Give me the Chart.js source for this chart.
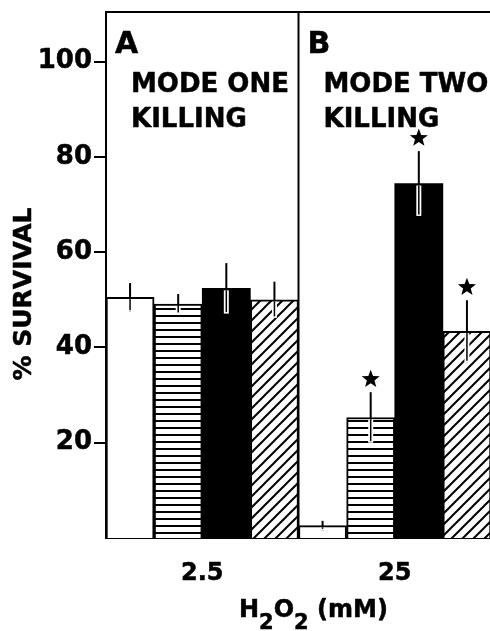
<!DOCTYPE html>
<html>
<head>
<meta charset="utf-8">
<script src="https://cdn.jsdelivr.net/npm/chart.js@4.4.1/dist/chart.umd.min.js"></script>
<style>
html, body { margin: 0; padding: 0; background: #fff; }
#wrap { width: 490px; height: 631px; overflow: hidden; }
</style>
</head>
<body>
<div id="wrap"><canvas id="survivalChart" width="500" height="631"></canvas></div>
<script>
const doses = ['2.5', '25'];
const panelLabels = ['A', 'B'];
const panelText = [['MODE ONE', 'KILLING'], ['MODE TWO', 'KILLING']];
const yTicks = [20, 40, 60, 80, 100];
const yTitle = '% SURVIVAL';
// [text, subscript?]
const xTitleParts = [['H', false], ['2', true], ['O', false], ['2', true], [' (mM)', false]];

const controlVals = [50.5, 2.6];
const controlErr = [3, 1];
const stripedVals = [49.1, 25.3];
const stripedErr = [2.1, 5.3];
const blackVals = [52.4, 74.4];
const blackErr = [5.3, 6.8];
const hatchedVals = [50, 43.4];
const hatchedErr = [3.8, 6.5];
// star = marked on the figure
const controlStar = [false, false];
const stripedStar = [false, true];
const blackStar = [false, true];
const hatchedStar = [false, true];

const FONT = 'DejaVu Sans';
const STROKE = 0.5;

function stripePattern() {
    const c = document.createElement('canvas');
    c.width = 8; c.height = 7;
    const g = c.getContext('2d');
    g.fillStyle = '#fff';
    g.fillRect(0, 0, 8, 7);
    g.fillStyle = '#000';
    g.fillRect(0, 0, 8, 2);
    return g.createPattern(c, 'repeat');
}

function hatchPattern() {
    const s = 11;
    const c = document.createElement('canvas');
    c.width = s; c.height = s;
    const g = c.getContext('2d');
    g.fillStyle = '#fff';
    g.fillRect(0, 0, s, s);
    g.strokeStyle = '#000';
    g.lineWidth = 2;
    g.beginPath();
    g.moveTo(0, s); g.lineTo(s, 0);
    g.moveTo(-s / 2, s / 2); g.lineTo(s / 2, -s / 2);
    g.moveTo(s / 2, s * 1.5); g.lineTo(s * 1.5, s / 2);
    g.stroke();
    return g.createPattern(c, 'repeat');
}

function drawStar(ctx, cx, cy, r1, r2) {
    ctx.beginPath();
    for (let i = 0; i < 10; i++) {
        const r = i % 2 === 0 ? r1 : r2;
        const a = -Math.PI / 2 + i * Math.PI / 5;
        const px = cx + r * Math.cos(a);
        const py = cy + r * Math.sin(a);
        if (i === 0) ctx.moveTo(px, py); else ctx.lineTo(px, py);
    }
    ctx.closePath();
    ctx.fill();
}

// bold text with a thin outline so it looks as heavy as the print
function heavyText(ctx, t, x, y) {
    ctx.fillText(t, x, y);
    ctx.strokeText(t, x, y);
}

const figurePlugin = {
    id: 'figure',
    afterDatasetsDraw(chart) {
        const ctx = chart.ctx;
        const y = chart.scales.y;
        chart.data.datasets.forEach((ds, di) => {
            const meta = chart.getDatasetMeta(di);
            meta.data.forEach((bar, i) => {
                const v = ds.data[i];
                const e = ds.errors[i];
                const yTop = y.getPixelForValue(v + e);
                const yBot = y.getPixelForValue(v - e);
                ctx.save();
                ctx.lineCap = 'butt';
                ctx.strokeStyle = '#000';
                ctx.lineWidth = 2;
                ctx.beginPath();
                ctx.moveTo(bar.x, yTop);
                ctx.lineTo(bar.x, yBot);
                ctx.stroke();
                // part inside the bar gets a white halo
                const inTop = Math.max(bar.y + 2, yTop);
                if (yBot > inTop) {
                    ctx.strokeStyle = '#fff';
                    ctx.lineWidth = 5;
                    ctx.beginPath();
                    ctx.moveTo(bar.x, inTop);
                    ctx.lineTo(bar.x, yBot);
                    ctx.stroke();
                    ctx.strokeStyle = '#000';
                    ctx.lineWidth = 1.5;
                    ctx.beginPath();
                    ctx.moveTo(bar.x, inTop);
                    ctx.lineTo(bar.x, yBot - 1.5);
                    ctx.stroke();
                }
                if (ds.stars[i]) {
                    ctx.fillStyle = '#000';
                    drawStar(ctx, bar.x, yTop - 13, 9.5, 4);
                }
                ctx.restore();
            });
        });
    },
    afterDraw(chart) {
        const ctx = chart.ctx;
        const area = chart.chartArea;
        const x = chart.scales.x;
        const divX = (x.getPixelForValue(0) + x.getPixelForValue(1)) / 2;
        ctx.save();
        ctx.strokeStyle = '#000';
        ctx.lineWidth = 2;
        ctx.beginPath();
        ctx.moveTo(area.left - 1, area.top);
        ctx.lineTo(area.right + 5, area.top);
        ctx.moveTo(divX, area.top);
        ctx.lineTo(divX, area.bottom);
        ctx.stroke();

        // panel captions
        ctx.fillStyle = '#000';
        ctx.lineWidth = STROKE;
        ctx.lineJoin = 'round';
        ctx.textAlign = 'left';
        ctx.textBaseline = 'alphabetic';
        const lefts = [area.left, divX];
        lefts.forEach((lx, p) => {
            ctx.font = 'bold 30px "' + FONT + '"';
            heavyText(ctx, panelLabels[p], lx + 9, area.top + 41);
            ctx.font = 'bold 26px "' + FONT + '"';
            heavyText(ctx, panelText[p][0], lx + 25, area.top + 80);
            heavyText(ctx, panelText[p][1], lx + 25, area.top + 115);
        });

        // y title
        ctx.save();
        ctx.translate(24, 294);
        ctx.rotate(-Math.PI / 2);
        ctx.textAlign = 'center';
        ctx.textBaseline = 'middle';
        ctx.font = 'bold 25px "' + FONT + '"';
        heavyText(ctx, yTitle, 0, 0);
        ctx.restore();

        // x title with subscripts
        let tx = 239;
        xTitleParts.forEach(([t, sub]) => {
            ctx.font = (sub ? 'bold 21px "' : 'bold 24px "') + FONT + '"';
            heavyText(ctx, t, tx, sub ? 629 : 617);
            tx += ctx.measureText(t).width;
        });
        ctx.restore();
    }
};

const ctx = document.getElementById('survivalChart').getContext('2d');
new Chart(ctx, {
    type: 'bar',
    data: {
        labels: doses,
        datasets: [
            { data: controlVals, errors: controlErr, stars: controlStar, backgroundColor: '#fff', borderColor: '#000', borderWidth: 2 },
            { data: stripedVals, errors: stripedErr, stars: stripedStar, backgroundColor: stripePattern(), borderColor: '#000', borderWidth: 2 },
            { data: blackVals, errors: blackErr, stars: blackStar, backgroundColor: '#000', borderColor: '#000', borderWidth: 0 },
            { data: hatchedVals, errors: hatchedErr, stars: hatchedStar, backgroundColor: hatchPattern(), borderColor: '#000', borderWidth: 2 }
        ]
    },
    options: {
        responsive: false,
        animation: false,
        layout: { padding: { top: 12, right: 9, left: 0, bottom: 0 } },
        datasets: {
            bar: { barPercentage: 1, categoryPercentage: 1, borderSkipped: 'bottom' }
        },
        plugins: {
            legend: { display: false },
            tooltip: { enabled: false }
        },
        scales: {
            x: {
                grid: { display: false },
                border: { display: true, color: '#000', width: 2 },
                ticks: {
                    color: '#000', padding: 13, textStrokeColor: '#000', textStrokeWidth: STROKE,
                    font: { family: FONT, weight: 'bold', size: 24 }
                },
                afterFit: s => { s.height = 93; }
            },
            y: {
                min: 0,
                max: 110.4,
                afterBuildTicks: s => { s.ticks = yTicks.map(v => ({ value: v })); },
                grid: { drawOnChartArea: false, color: '#000', lineWidth: 2, tickLength: 12 },
                border: { display: true, color: '#000', width: 2 },
                ticks: {
                    color: '#000', padding: 2, textStrokeColor: '#000', textStrokeWidth: STROKE,
                    font: { family: FONT, weight: 'bold', size: 26 }
                },
                afterFit: s => { s.width = 106; s.paddingTop = 0; s.paddingBottom = 0; }
            }
        }
    },
    plugins: [figurePlugin]
});
</script>
</body>
</html>
